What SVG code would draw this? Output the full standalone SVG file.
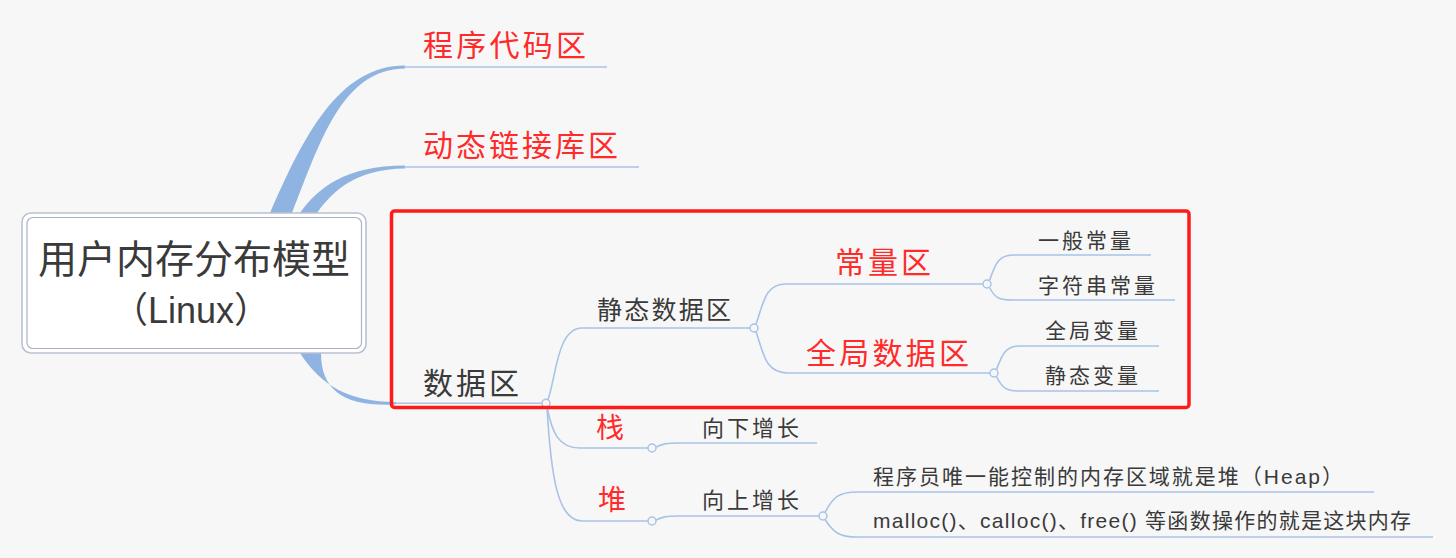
<svg xmlns="http://www.w3.org/2000/svg" width="1456" height="558" viewBox="0 0 1456 558">
<style>
text{font-family:"Liberation Sans","Noto Sans CJK SC",sans-serif;}
.red{fill:#ff2b2b;}
.dark{fill:#3a3a3a;}
.ln{fill:none;stroke:#a8c3e8;stroke-width:1.6;}
.thick{fill:#8fb4e1;stroke:none;}
.dot{fill:#f7f7f7;stroke:#a8c3e8;stroke-width:1.5;}
</style>
<rect x="0" y="0" width="1456" height="558" fill="#f7f7f7"/>
<g id="connectors">
<path class="thick" d="M270 213 C303 138 338 65.5 405 65.5 L405 68.5 C342 69 320 142 292 213 Z"/>
<path class="thick" d="M300 213 C318 188 345 165.5 405 165.5 L405 168.5 C355 169 332 192 317 213 Z"/>
<path class="thick" d="M300 353 C321 386 350 402 396 402 L396 404.5 C345 407 321 391 321 353 Z"/>
<path class="ln" d="M404 67 H607"/>
<path class="ln" d="M404 167 H639"/>
<path class="ln" d="M394 403.3 H542"/>
<path class="ln" d="M548 399.5 C556 378 557 328 582 328 H750"/>
<path class="ln" d="M756 324.5 C764 300 766 284 786 284 H983"/>
<path class="ln" d="M756 331.5 C764 356 766 373 788 373 H990"/>
<path class="ln" d="M989.5 280.5 C995 265 998 255 1013 255 H1151"/>
<path class="ln" d="M989.5 287.5 C995 298 999 300 1013 300 H1175"/>
<path class="ln" d="M996.5 369.5 C1002 355 1005 346 1020 346 H1159"/>
<path class="ln" d="M996.5 376.5 C1002 388 1006 391 1020 391 H1159"/>
<path class="ln" d="M547 407 C552 432 558 448 580 448 H648"/>
<path class="ln" d="M547 407 C551 478 558 521 582 521 H648"/>
<path class="ln" d="M656 447 C662 444 666 443 680 443 H817"/>
<path class="ln" d="M656 520 C662 517 666 516 680 516 H819"/>
<path class="ln" d="M825 512.5 C833 497 839 492 857 492 H1374"/>
<path class="ln" d="M825 519.5 C833 532 839 537 857 537 H1433"/>
<circle class="dot" cx="546" cy="403.3" r="4"/>
<circle class="dot" cx="754" cy="328" r="4"/>
<circle class="dot" cx="987" cy="284" r="4"/>
<circle class="dot" cx="994" cy="373" r="4"/>
<circle class="dot" cx="652" cy="448" r="4"/>
<circle class="dot" cx="652" cy="521" r="4"/>
<circle class="dot" cx="823" cy="516" r="4"/>
</g>
<g id="root">
<rect x="22" y="213" width="344" height="140" rx="9" fill="#ffffff" stroke="#b9c1d1" stroke-width="1.6"/>
<rect x="27" y="217.5" width="334.5" height="131" rx="6" fill="none" stroke="#a9b3c6" stroke-width="1.2"/>
<text class="dark" x="194" y="273" font-size="39" text-anchor="middle" textLength="312" lengthAdjust="spacing">用户内存分布模型</text>
<text class="dark" x="191" y="323" font-size="36" text-anchor="middle">（Linux）</text>
</g>
<g id="n-code"><text class="red" x="423" y="56" font-size="30" textLength="163" lengthAdjust="spacing">程序代码区</text></g>
<g id="n-dll"><text class="red" x="423" y="156" font-size="30" textLength="195" lengthAdjust="spacing">动态链接库区</text></g>
<g id="n-data"><text class="dark" x="423" y="394" font-size="30" textLength="96" lengthAdjust="spacing">数据区</text></g>
<g id="n-static"><text class="dark" x="597" y="319" font-size="25" textLength="134" lengthAdjust="spacing">静态数据区</text></g>
<g id="n-const"><text class="red" x="835" y="273" font-size="30" textLength="96" lengthAdjust="spacing">常量区</text></g>
<g id="n-global"><text class="red" x="806" y="364" font-size="30" textLength="163" lengthAdjust="spacing">全局数据区</text></g>
<g id="n-c1"><text class="dark" x="1038" y="248" font-size="21" textLength="93" lengthAdjust="spacing">一般常量</text></g>
<g id="n-c2"><text class="dark" x="1038" y="293" font-size="21" textLength="117" lengthAdjust="spacing">字符串常量</text></g>
<g id="n-g1"><text class="dark" x="1045" y="338" font-size="21" textLength="93" lengthAdjust="spacing">全局变量</text></g>
<g id="n-g2"><text class="dark" x="1045" y="383" font-size="21" textLength="93" lengthAdjust="spacing">静态变量</text></g>
<g id="n-stack"><text class="red" x="596" y="438" font-size="28">栈</text></g>
<g id="n-stack-d"><text class="dark" x="702" y="436" font-size="22" textLength="97" lengthAdjust="spacing">向下增长</text></g>
<g id="n-heap"><text class="red" x="598" y="510" font-size="28">堆</text></g>
<g id="n-heap-d"><text class="dark" x="702" y="508" font-size="22" textLength="97" lengthAdjust="spacing">向上增长</text></g>
<g id="n-heap-1"><text class="dark" x="873" y="484" font-size="21" textLength="470" lengthAdjust="spacing">程序员唯一能控制的内存区域就是堆（Heap）</text></g>
<g id="n-heap-2"><text class="dark" x="873" y="528" font-size="21" textLength="538" lengthAdjust="spacing">malloc()、calloc()、free() 等函数操作的就是这块内存</text></g>
<g id="highlight">
<rect x="391.5" y="211" width="797.5" height="196.5" rx="3" fill="none" stroke="#ff1a1a" stroke-width="3.5"/>
</g>
</svg>
